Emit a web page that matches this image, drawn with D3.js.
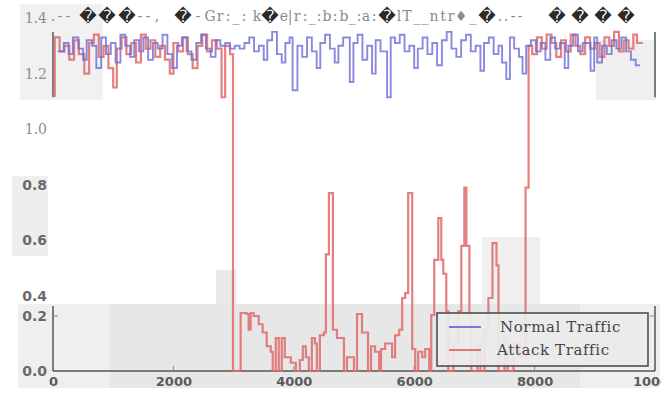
<!DOCTYPE html>
<html>
<head>
<meta charset="utf-8">
<script src="https://cdn.jsdelivr.net/npm/d3@7"></script>
<style>
	body { margin: 0; background: #fff; }
	svg { display: block; }
</style>
</head>
<body>
<div id="chart"></div>
<script>
// data: [x, value] step points
const normalTraffic = [
	[80,1.28],[180,1.31],[260,1.27],[330,1.33],[420,1.29],[500,1.25],[560,1.32],[650,1.30],[720,1.22],[800,1.33],
	[880,1.27],[960,1.31],[1040,1.24],[1120,1.34],[1200,1.30],[1280,1.26],[1350,1.32],[1430,1.28],[1500,1.33],[1580,1.25],
	[1660,1.31],[1740,1.29],[1820,1.34],[1900,1.27],[1980,1.22],[2060,1.30],[2140,1.33],[2220,1.28],[2300,1.25],[2380,1.31],
	[2460,1.34],[2540,1.29],[2620,1.26],[2700,1.32],[2780,1.30],[2860,1.31],[2940,1.29],[3020,1.30],[3100,1.29],[3180,1.31],
	[3260,1.33],[3340,1.28],[3420,1.30],[3500,1.25],[3560,1.32],[3640,1.35],[3720,1.27],[3800,1.24],[3860,1.31],[3930,1.33],
	[3980,1.14],[4060,1.30],[4140,1.26],[4220,1.33],[4300,1.28],[4380,1.22],[4440,1.31],[4520,1.34],[4600,1.29],[4680,1.24],
	[4740,1.30],[4820,1.33],[4930,1.17],[4990,1.31],[5060,1.34],[5140,1.25],[5220,1.30],[5300,1.20],[5360,1.32],[5440,1.28],
	[5550,1.115],[5610,1.33],[5680,1.31],[5760,1.34],[5840,1.28],[5920,1.30],[6000,1.22],[6060,1.29],[6140,1.33],[6220,1.27],
	[6300,1.31],[6380,1.23],[6460,1.32],[6540,1.35],[6620,1.29],[6700,1.26],[6780,1.32],[6860,1.34],[6940,1.28],[7020,1.30],
	[7100,1.21],[7160,1.31],[7240,1.33],[7320,1.27],[7400,1.30],[7460,1.24],[7530,1.18],[7590,1.33],[7660,1.29],[7740,1.26],
	[7800,1.20],[7860,1.30],[7940,1.32],[8020,1.28],[8100,1.31],[8180,1.25],[8260,1.33],[8340,1.29],[8420,1.31],[8500,1.22],
	[8560,1.30],[8640,1.34],[8720,1.28],[8800,1.31],[8930,1.21],[8990,1.33],[9040,1.24],[9120,1.30],[9200,1.27],[9280,1.32],
	[9360,1.29],[9440,1.33],[9520,1.28],[9600,1.25],[9680,1.23],[9750,1.23]
];

const attackTraffic = [
	[0,1.12],[30,1.33],[110,1.28],[190,1.30],[270,1.25],[350,1.32],[430,1.27],[520,1.20],[600,1.31],[680,1.34],
	[760,1.26],[840,1.30],[920,1.22],[1000,1.15],[1060,1.29],[1140,1.33],[1220,1.27],[1300,1.31],[1380,1.24],[1460,1.34],
	[1540,1.29],[1620,1.32],[1700,1.26],[1780,1.30],[1860,1.25],[1940,1.20],[2000,1.31],[2080,1.28],[2160,1.33],[2240,1.27],
	[2320,1.22],[2400,1.30],[2480,1.34],[2560,1.28],[2640,1.32],[2720,1.29],[2800,1.115],[2860,1.30],[2940,1.27],[2990,0],
	[3117,0.23],[3217,0.22],[3250,0.15],[3283,0.23],[3333,0.20],[3417,0.17],[3483,0.14],[3550,0.09],[3617,0.07],[3650,0],
	[3700,0.12],[3750,0],[3800,0.12],[3850,0.05],[3950,0.03],[4033,0],[4100,0.04],[4150,0.09],[4200,0.05],[4250,0],
	[4300,0.12],[4350,0.10],[4383,0],[4433,0.13],[4500,0.14],[4533,0.55],[4583,0.77],[4650,0.15],[4717,0.12],[4833,0],
	[4883,0.05],[5000,0],[5050,0.22],[5133,0.14],[5233,0],[5283,0.09],[5350,0.07],[5417,0],[5450,0.08],[5517,0.10],
	[5633,0.05],[5683,0.13],[5750,0.15],[5800,0.38],[5850,0.41],[5900,0.77],[5967,0.08],[6017,0],[6067,0.07],[6133,0.05],
	[6183,0.08],[6250,0],[6283,0.21],[6333,0.53],[6400,0.68],[6450,0.53],[6483,0.48],[6533,0.25],[6567,0],[6650,0.10],
	[6733,0.25],[6783,0.58],[6833,0.79],[6867,0.58],[6917,0.22],[6950,0],[7050,0.10],[7100,0],[7167,0.15],[7233,0.38],
	[7300,0.59],[7367,0.51],[7400,0],[7500,0.12],[7550,0],[7650,0.10],[7750,0.05],[7850,0.79],[7900,1.30],[7960,1.27],
	[8040,1.33],[8120,1.29],[8200,1.34],[8280,1.31],[8360,1.26],[8440,1.32],[8520,1.28],[8600,1.34],[8680,1.30],[8760,1.27],
	[8840,1.33],[8920,1.29],[9000,1.31],[9080,1.26],[9160,1.33],[9240,1.30],[9320,1.35],[9400,1.28],[9480,1.32],[9560,1.29],
	[9640,1.34],[9700,1.31],[9800,1.31]
];

const xTicks = [0, 2000, 4000, 6000, 8000, 10000];
const yTicks = [0, 0.2, 0.4, 0.6, 0.8, 1.0, 1.2, 1.4];
const seriesNames = ["Normal Traffic", "Attack Traffic"];

// garbled header text, as it shows in the picture, one glyph at a time
const titlePieces = [
	[".", 53], ["-", 60], ["-", 68], ["\uFFFD", 88], ["\uFFFD", 107], ["\uFFFD", 127], ["-", 140], ["-", 148], [",", 157],
	["\uFFFD", 183], ["-", 198], ["G", 210], ["r", 220], [":", 228], ["_", 236], [":", 244], ["k", 257], ["\uFFFD", 270],
	["e", 284], ["|", 290], ["r", 297], [":", 305], ["_", 312], [":", 319], ["b", 327], [":", 335], ["b", 344], ["_", 352],
	[":", 359], ["a", 366], [":", 374], ["\uFFFD", 387], ["l", 399], ["T", 407], ["_", 417], ["_", 425], ["n", 434],
	["t", 443], ["r", 451], ["\u2666", 461], ["_", 473], ["\uFFFD", 487], [".", 500], [".", 506], ["-", 513], ["-", 520],
	["\uFFFD", 557], ["\uFFFD", 580], ["\uFFFD", 603], ["\uFFFD", 626]
];

const width = 672;
const height = 394;

const svg = d3
	.select("#chart")
	.append("svg")
	.attr("width", width)
	.attr("height", height)
	.attr("viewBox", `0 0 ${width} ${height}`);

const x = d3.scaleLinear().domain([0, 10000]).range([53, 655]);
// the picture is two panels glued together, so the y scale is piecewise
const y = d3.scaleLinear().domain([0, 0.2, 0.4, 1.4]).range([371, 316, 296, 18]);

// grey smudges in the background of the scan
const smudges = [
	{ x: 20, y: 4, w: 83, h: 96, c: "#f1f1f1" },
	{ x: 12, y: 176, w: 36, h: 80, c: "#eeeeee" },
	{ x: 18, y: 304, w: 642, h: 84, c: "#efefef" },
	{ x: 110, y: 304, w: 470, h: 84, c: "#e7e7e7" },
	{ x: 216, y: 270, w: 20, h: 34, c: "#e9e9e9" },
	{ x: 482, y: 237, w: 58, h: 67, c: "#f0f0f0" },
	{ x: 596, y: 40, w: 60, h: 60, c: "#efefef" }
];
svg
	.append("g")
	.attr("class", "smudges")
	.selectAll("rect")
	.data(smudges)
	.join("rect")
	.attr("x", (d) => d.x)
	.attr("y", (d) => d.y)
	.attr("width", (d) => d.w)
	.attr("height", (d) => d.h)
	.attr("fill", (d) => d.c);

// spines, only where the panels are
const spineParts = [[1.35, 1.115], [0.3, 0]];
const spines = svg.append("g").attr("class", "spines");
[0, 10000].forEach((xv) => {
	spineParts.forEach(([a, b]) => {
		spines
			.append("line")
			.attr("x1", x(xv))
			.attr("x2", x(xv))
			.attr("y1", y(a))
			.attr("y2", y(b))
			.attr("stroke", "#555")
			.attr("stroke-width", 1.5);
	});
});
spines
	.append("line")
	.attr("x1", x(0))
	.attr("x2", x(10000))
	.attr("y1", y(0))
	.attr("y2", y(0))
	.attr("stroke", "#555")
	.attr("stroke-width", 1.5);

// small inward ticks
xTicks.slice(1, 5).forEach((t) => {
	spines
		.append("line")
		.attr("x1", x(t))
		.attr("x2", x(t))
		.attr("y1", y(0))
		.attr("y2", y(0) - 5)
		.attr("stroke", "#888");
});
[[0, 5], [10000, -5]].forEach(([xv, dir]) => {
	spines
		.append("line")
		.attr("x1", x(xv))
		.attr("x2", x(xv) + dir)
		.attr("y1", y(0.2))
		.attr("y2", y(0.2))
		.attr("stroke", "#888");
});

// lines
const line = d3
	.line()
	.x(([a]) => x(a))
	.y(([_, b]) => y(b))
	.curve(d3.curveStepAfter);

svg
	.append("path")
	.datum(attackTraffic)
	.attr("fill", "none")
	.attr("stroke", "#df6a6a")
	.attr("stroke-opacity", 0.85)
	.attr("stroke-width", 2.2)
	.attr("d", line);

svg
	.append("path")
	.datum(normalTraffic)
	.attr("fill", "none")
	.attr("stroke", "#6b6bd6")
	.attr("stroke-opacity", 0.8)
	.attr("stroke-width", 1.9)
	.attr("d", line);

// y axis labels
const yAxis = svg
	.append("g")
	.attr("class", "y-axis")
	.attr("transform", "translate(47, 0)")
	.call(d3.axisLeft(y).tickValues(yTicks).tickSize(0).tickPadding(0).tickFormat(d3.format(".1f")));
yAxis.select(".domain").remove();
yAxis
	.selectAll(".tick text")
	.attr("font-family", (d) => (d >= 1 ? "DejaVu Serif" : "DejaVu Sans"))
	.attr("font-weight", (d) => (d >= 1 ? "normal" : "bold"))
	.attr("font-size", 14)
	.attr("fill", (d) => (d >= 1 ? "#8c8c8c" : "#6a6a6a"));

// x axis labels, clipped at the right edge like the picture
svg
	.append("clipPath")
	.attr("id", "xclip")
	.append("rect")
	.attr("x", 0)
	.attr("y", 0)
	.attr("width", 661)
	.attr("height", height);

const xAxis = svg
	.append("g")
	.attr("class", "x-axis")
	.attr("clip-path", "url(#xclip)")
	.attr("transform", `translate(0, ${y(0)})`)
	.call(d3.axisBottom(x).tickValues(xTicks).tickSize(0).tickPadding(6).tickFormat(d3.format("d")));
xAxis.select(".domain").remove();
xAxis
	.selectAll(".tick text")
	.attr("font-family", "DejaVu Sans")
	.attr("font-weight", "bold")
	.attr("font-size", 13)
	.attr("fill", "#5a5a5a");

// header
const header = svg.append("g").attr("class", "header");
header
	.selectAll("text")
	.data(titlePieces)
	.join("text")
	.attr("x", (d) => d[1])
	.attr("y", (d) => (d[0] === "\uFFFD" ? 22 : 21))
	.attr("text-anchor", "middle")
	.attr("font-family", (d) => (d[0] === "\uFFFD" ? "DejaVu Sans" : "DejaVu Serif"))
	.attr("font-size", (d) => (d[0] === "\uFFFD" ? 17 : 14))
	.attr("fill", (d) => (d[0] === "\uFFFD" ? "#2a2a2a" : "#8a8a8a"))
	.text((d) => d[0]);

// legend
const legend = svg.append("g").attr("class", "legend").attr("transform", "translate(437, 313)");
legend
	.append("rect")
	.attr("width", 211)
	.attr("height", 53)
	.attr("fill", "#ebebeb")
	.attr("fill-opacity", 0.93)
	.attr("stroke", "#444")
	.attr("stroke-width", 1.5);

const legendColors = ["#6b6bd6", "#df6a6a"];
seriesNames.forEach((name, i) => {
	const ly = 14 + i * 23;
	legend
		.append("line")
		.attr("x1", 12)
		.attr("x2", 44)
		.attr("y1", ly)
		.attr("y2", ly)
		.attr("stroke", legendColors[i])
		.attr("stroke-width", 1.8);
	legend
		.append("text")
		.attr("x", 63 - i * 3)
		.attr("y", ly + 5)
		.attr("font-family", "DejaVu Serif")
		.attr("font-size", 15)
		.attr("letter-spacing", 0.6)
		.attr("fill", "#444")
		.text(name);
});
</script>
</body>
</html>
